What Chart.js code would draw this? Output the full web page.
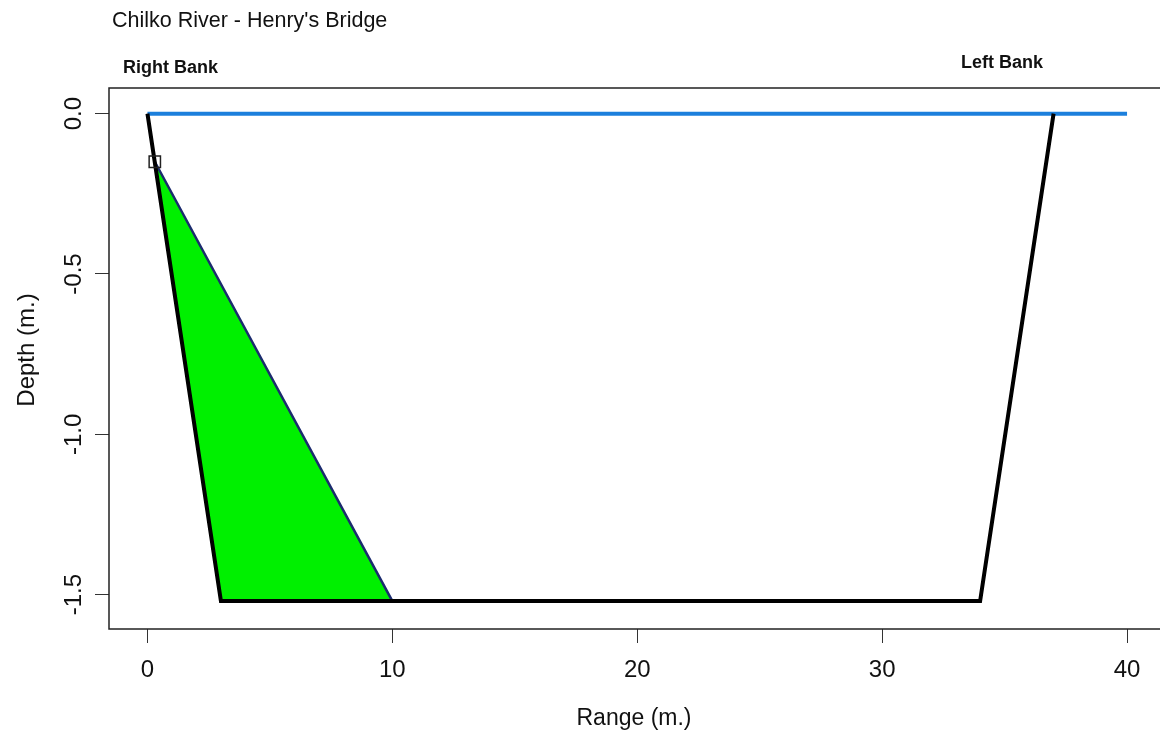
<!DOCTYPE html>
<html>
<head>
<meta charset="utf-8">
<script src="https://cdn.jsdelivr.net/npm/chart.js@4.4.0/dist/chart.umd.min.js"></script>
<style>
  body { margin: 0; overflow: hidden; background: #fff; }
  #wrap { width: 1175px; height: 734px; }
</style>
</head>
<body>
<div id="wrap"><canvas id="xsection" width="1175" height="734"></canvas></div>
<script>
// cross-section data (metres)
var waterX = [0, 40];
var waterY = [0, 0];
var bankX = [0, 3, 34, 37];
var bankY = [0, -1.52, -1.52, 0];
var flowX = [0.3, 3, 10, 0.3];
var flowY = [-0.15, -1.52, -1.52, -0.15];
var probeX = [0.3];
var probeY = [-0.15];

var xTicks = [0, 10, 20, 30, 40];
var xTickLabels = ["0", "10", "20", "30", "40"];
var yTicks = [0, -0.5, -1, -1.5];
var yTickLabels = ["0.0", "-0.5", "-1.0", "-1.5"];

var FONT = '"Liberation Sans", Arial, sans-serif';

function pts(xs, ys) {
  return xs.map(function (x, i) { return { x: x, y: ys[i] }; });
}

var textPlugin = {
  id: 'rtext',
  afterDraw: function (chart) {
    var c = chart.ctx;
    var a = chart.chartArea;
    var xs = chart.scales.x, ys = chart.scales.y;
    c.save();
    // box around plot region
    c.strokeStyle = '#222';
    c.lineWidth = 1.5;
    c.strokeRect(a.left, a.top, a.right - a.left, a.bottom - a.top);

    c.fillStyle = '#111';
    c.textBaseline = 'alphabetic';
    c.textAlign = 'left';
    c.font = '21.5px ' + FONT;
    c.fillText("Chilko River - Henry's Bridge", 112, 27);
    c.font = 'bold 18px ' + FONT;
    c.fillText('Right Bank', 123, 73);
    c.fillText('Left Bank', 961, 68);

    // x tick labels
    c.font = '24px ' + FONT;
    c.textAlign = 'center';
    c.textBaseline = 'middle';
    xTicks.forEach(function (v, i) {
      c.fillText(xTickLabels[i], xs.getPixelForValue(v), 670);
    });
    // y tick labels, rotated
    yTicks.forEach(function (v, i) {
      c.save();
      c.translate(74, ys.getPixelForValue(v));
      c.rotate(-Math.PI / 2);
      c.fillText(yTickLabels[i], 0, 0);
      c.restore();
    });

    // axis titles
    c.textBaseline = 'alphabetic';
    c.font = '23px ' + FONT;
    c.fillText('Range (m.)', 634, 725);
    c.font = '24px ' + FONT;
    c.save();
    c.translate(34, 350);
    c.rotate(-Math.PI / 2);
    c.fillText('Depth (m.)', 0, 0);
    c.restore();
    c.restore();
  }
};

var ctx = document.getElementById("xsection").getContext('2d');
var xsection = new Chart(ctx, {
  type: 'line',
  data: {
    datasets: [{
      label: 'probe',
      data: pts(probeX, probeY),
      showLine: false,
      pointStyle: 'rect',
      pointRadius: 8,
      pointBorderWidth: 1.5,
      pointBorderColor: '#222',
      pointBackgroundColor: 'rgba(0,0,0,0)',
      order: 0
    }, {
      label: 'bank',
      data: pts(bankX, bankY),
      borderColor: '#000',
      borderWidth: 4,
      pointRadius: 0,
      fill: false,
      order: 1
    }, {
      label: 'water',
      data: pts(waterX, waterY),
      borderColor: '#1c7fdc',
      borderWidth: 4,
      pointRadius: 0,
      fill: false,
      order: 2
    }, {
      label: 'flow',
      data: pts(flowX, flowY),
      borderColor: '#1b2b6e',
      borderWidth: 2.5,
      backgroundColor: '#00f000',
      pointRadius: 0,
      fill: 'shape',
      order: 3
    }]
  },
  options: {
    responsive: false,
    animation: false,
    devicePixelRatio: 1,
    events: [],
    layout: { padding: { left: 0, top: 88, right: 8, bottom: 0 } },
    plugins: { legend: { display: false }, tooltip: { enabled: false } },
    scales: {
      x: {
        type: 'linear',
        min: -1.57,
        max: 41.57,
        afterBuildTicks: function (s) { s.ticks = xTicks.map(function (v) { return { value: v }; }); },
        afterFit: function (s) { s.height = 105; },
        grid: { drawOnChartArea: false, drawTicks: true, tickLength: 14, color: '#333', lineWidth: 1 },
        border: { display: false },
        ticks: { display: false }
      },
      y: {
        type: 'linear',
        min: -1.607,
        max: 0.08,
        afterBuildTicks: function (s) { s.ticks = yTicks.map(function (v) { return { value: v }; }); },
        afterFit: function (s) { s.width = 109; },
        grid: { drawOnChartArea: false, drawTicks: true, tickLength: 14, color: '#333', lineWidth: 1 },
        border: { display: false },
        ticks: { display: false }
      }
    }
  },
  plugins: [textPlugin]
});
</script>
</body>
</html>
